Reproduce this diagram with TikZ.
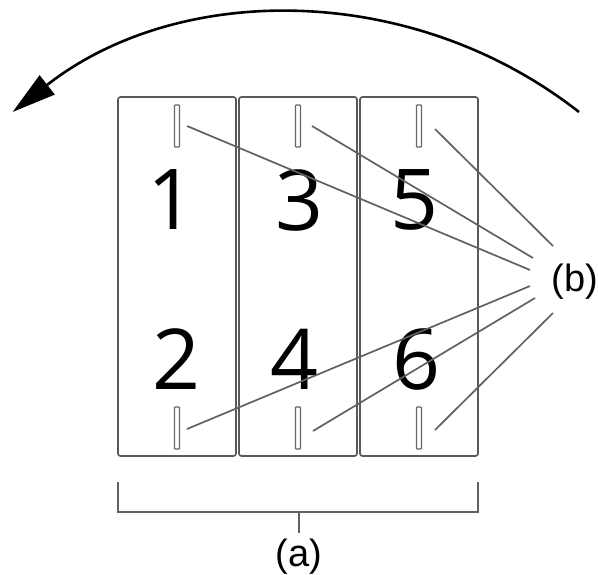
\documentclass[tikz,border=0pt]{standalone}
\usepackage{fontspec}
\setmainfont{Liberation Sans}
\newfontfamily\digitfont{Open Sans}
\usetikzlibrary{arrows.meta}
\begin{document}
\begin{tikzpicture}[x=1pt,y=-1pt,
  panel/.style={draw=black!65,line width=1.7pt,rounded corners=2.5pt,minimum width=118pt,minimum height=359pt,inner sep=0pt},
  slot/.style={draw=black!60,line width=1.3pt,rounded corners=0.8pt,minimum width=5pt,minimum height=42pt,inner sep=0pt},
  digit/.style={inner sep=0pt,font=\digitfont\fontsize{84}{84}\selectfont},
  lead/.style={draw=black!62,line width=1.7pt},
  lab/.style={inner sep=0pt,font=\fontsize{38}{38}\selectfont}]
\useasboundingbox (0,0) rectangle (598,574);
% panels
\node[panel] (p1) at (177,276.5) {};
\node[panel] (p2) at (298,276.5) {};
\node[panel] (p3) at (419,276.5) {};
% slots
\node[slot] (s1t) at (177,126) {};
\node[slot] (s2t) at (298,126) {};
\node[slot] (s3t) at (419,126) {};
\node[slot] (s1b) at (177,428) {};
\node[slot] (s2b) at (298,428) {};
\node[slot] (s3b) at (419,428) {};
% digits
\node[digit] (d1) at (172,200) {1};
\node[digit] (d3) at (300,200) {3};
\node[digit] (d5) at (415,200) {5};
\node[digit] (d2) at (177,359) {2};
\node[digit] (d4) at (295,359) {4};
\node[digit] (d6) at (417,359) {6};
% labels
\node[lab] (b) at (575,282) {(b)};
\node[lab] (a) at (299,557) {(a)};
% leader line ends
\coordinate (l1) at (187,126);
\coordinate (l3) at (312,126);
\coordinate (l5) at (435,129);
\coordinate (l2) at (187,429);
\coordinate (l4) at (313,431);
\coordinate (l6) at (435,430);
\coordinate (e1) at (530,270);
\coordinate (e3) at (533,258);
\coordinate (e5) at (553,246);
\coordinate (e2) at (530,286);
\coordinate (e4) at (535,298);
\coordinate (e6) at (553,313);
\draw[lead] (l1) -- (e1);
\draw[lead] (l3) -- (e3);
\draw[lead] (l5) -- (e5);
\draw[lead] (l2) -- (e2);
\draw[lead] (l4) -- (e4);
\draw[lead] (l6) -- (e6);
% bracket
\coordinate (bl) at (118,482);
\coordinate (br) at (478,482);
\coordinate (bm) at (299,512);
\coordinate (bt) at (299,533);
\draw[lead] (bl) |- (bm) -| (br);
\draw[lead] (bm) -- (bt);
% rotation arrow
\coordinate (ar) at (579,112);
\draw[line width=2.6pt,-{Triangle[length=44pt,width=24pt]}] (ar) arc[start angle=-51.9, end angle=-128.1, radius=459];
\end{tikzpicture}
\end{document}
